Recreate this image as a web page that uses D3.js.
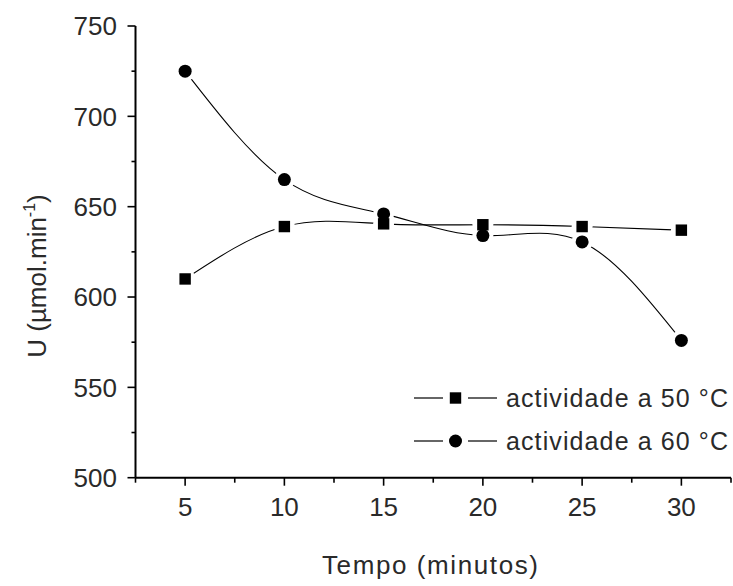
<!DOCTYPE html>
<html>
<head>
<meta charset="utf-8">
<script src="https://cdn.jsdelivr.net/npm/d3@7"></script>
<style>
  html, body { margin: 0; padding: 0; background: #fff; }
  svg { display: block; }
  text { font-family: "Liberation Sans", Arial, sans-serif; fill: #2a2a2a; }
</style>
</head>
<body>
<svg id="chart" width="733" height="586"></svg>
<script>
// Enzyme activity over time at two temperatures
const tempo = [5, 10, 15, 20, 25, 30];
const act50 = [610, 639, 640.5, 640, 639, 637];
const act60 = [725, 665, 646, 634, 630.5, 576];
const seriesNames = ["actividade a 50 \u00B0C", "actividade a 60 \u00B0C"];
const xTicks = [5, 10, 15, 20, 25, 30];
const xMinor = [2.5, 7.5, 12.5, 17.5, 22.5, 27.5, 32.5];
const yTicks = [500, 550, 600, 650, 700, 750];
const yMinor = [525, 575, 625, 675, 725];

const svg = d3.select("#chart");

const x = d3.scaleLinear().domain([2.5, 32.5]).range([135.5, 731]);
const y = d3.scaleLinear().domain([500, 750]).range([477.7, 26]);

const series = [
  { name: seriesNames[0], values: act50, shape: "square" },
  { name: seriesNames[1], values: act60, shape: "circle" }
];

// Smooth connecting curves
const line = d3.line()
  .x(d => x(d[0]))
  .y(d => y(d[1]))
  .curve(d3.curveNatural);

const plot = svg.append("g");
series.forEach(s => {
  plot.append("path")
    .datum(tempo.map((t, i) => [t, s.values[i]]))
    .attr("d", line)
    .attr("fill", "none")
    .attr("stroke", "#000")
    .attr("stroke-width", 1.1);
});

// White gaps around each symbol
series.forEach(s => {
  plot.selectAll(null)
    .data(tempo.map((t, i) => [t, s.values[i]]))
    .join("circle")
    .attr("cx", d => x(d[0]))
    .attr("cy", d => y(d[1]))
    .attr("r", 10.5)
    .attr("fill", "#fff");
});

function drawSymbol(g, shape, cx, cy) {
  if (shape === "square") {
    g.append("rect")
      .attr("x", cx - 5.7).attr("y", cy - 5.7)
      .attr("width", 11.4).attr("height", 11.4)
      .attr("fill", "#000");
  } else {
    g.append("circle")
      .attr("cx", cx).attr("cy", cy).attr("r", 6.5)
      .attr("fill", "#000");
  }
}

series.forEach(s => {
  tempo.forEach((t, i) => drawSymbol(plot, s.shape, x(t), y(s.values[i])));
});

// Axes
const axisY = 477.7, axisX = 135.5;
const xAxis = svg.append("g");
xAxis.append("line")
  .attr("x1", x(2.5)).attr("x2", x(32.5))
  .attr("y1", axisY).attr("y2", axisY)
  .attr("stroke", "#000").attr("stroke-width", 2);
xAxis.selectAll(".maj").data(xTicks).join("line")
  .attr("x1", d => x(d)).attr("x2", d => x(d))
  .attr("y1", axisY).attr("y2", axisY + 8)
  .attr("stroke", "#000").attr("stroke-width", 1.6);
xAxis.selectAll(".min").data(xMinor).join("line")
  .attr("x1", d => x(d)).attr("x2", d => x(d))
  .attr("y1", axisY).attr("y2", axisY + 5)
  .attr("stroke", "#000").attr("stroke-width", 1.6);
xAxis.selectAll("text").data(xTicks).join("text")
  .attr("x", d => x(d)).attr("y", 516)
  .attr("text-anchor", "middle")
  .style("font-size", "26px")
  .text(d => d);

const yAxis = svg.append("g");
yAxis.append("line")
  .attr("x1", axisX).attr("x2", axisX)
  .attr("y1", y(750)).attr("y2", axisY)
  .attr("stroke", "#000").attr("stroke-width", 2);
yAxis.selectAll(".maj").data(yTicks).join("line")
  .attr("x1", axisX - 8).attr("x2", axisX)
  .attr("y1", d => y(d)).attr("y2", d => y(d))
  .attr("stroke", "#000").attr("stroke-width", 1.6);
yAxis.selectAll(".min").data(yMinor).join("line")
  .attr("x1", axisX - 4).attr("x2", axisX)
  .attr("y1", d => y(d)).attr("y2", d => y(d))
  .attr("stroke", "#000").attr("stroke-width", 1.6);
yAxis.selectAll("text").data(yTicks).join("text")
  .attr("x", 117).attr("y", d => y(d) + 9.3)
  .attr("text-anchor", "end")
  .style("font-size", "26px")
  .text(d => d);

// Axis titles
svg.append("text")
  .attr("x", 430).attr("y", 574)
  .attr("text-anchor", "middle")
  .style("font-size", "26px")
  .attr("textLength", 216)
  .attr("lengthAdjust", "spacing")
  .text("Tempo (minutos)");

const yt = svg.append("text")
  .attr("transform", "translate(46,276) rotate(-90)")
  .attr("text-anchor", "middle")
  .style("font-size", "26px");
yt.append("tspan").text("U (\u00B5mol.min");
yt.append("tspan").attr("dy", -11).style("font-size", "16px").text("-1");
yt.append("tspan").attr("dy", 11).text(")");

// Legend
const legend = svg.append("g");
const legRows = [398, 441];
series.forEach((s, i) => {
  const cy = legRows[i];
  legend.append("line").attr("x1", 414).attr("x2", 443)
    .attr("y1", cy).attr("y2", cy).attr("stroke", "#000").attr("stroke-width", 1.2);
  legend.append("line").attr("x1", 468).attr("x2", 497)
    .attr("y1", cy).attr("y2", cy).attr("stroke", "#000").attr("stroke-width", 1.2);
  drawSymbol(legend, s.shape, 455.5, cy);
  legend.append("text")
    .attr("x", 506).attr("y", cy + 9)
    .style("font-size", "25px")
    .attr("textLength", 222)
    .attr("lengthAdjust", "spacing")
    .text(s.name);
});
</script>
</body>
</html>
